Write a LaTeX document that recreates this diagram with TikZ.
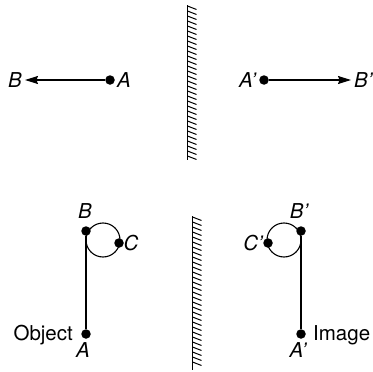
\documentclass[tikz,border=0pt]{standalone}
\usepackage{fontspec}
\setmainfont{TeX Gyre Heros}
\usetikzlibrary{arrows.meta}
\begin{document}
\begin{tikzpicture}[
    x=1pt, y=-1pt,
    font=\fontsize{20.5}{24}\selectfont,
    dot/.style={circle, fill, inner sep=0pt, minimum size=9.5pt},
    arrow/.style={-{Stealth[length=13pt, width=8pt, inset=1.5pt]}, line width=1.1pt},
    rod/.style={line width=1.1pt},
    mirror/.style={line width=1.8pt},
    hatch/.style={line width=1pt},
    pt/.style={font=\fontsize{20.5}{24}\selectfont\itshape, inner sep=3pt}
]
\useasboundingbox (0,0) rectangle (373,372);

% Upper pair: object arrow and its image
\node[dot] (A)  at (110,80) {};
\node[dot] (Ap) at (264,80) {};
\node[pt, anchor=east] (B)  at (25,80)  {B};
\node[pt, anchor=west] (Bp) at (351,80) {B’};
\node[pt, anchor=west, inner sep=2pt] at (A.east)  {A};
\node[pt, anchor=east] at (Ap.west) {A’};

\draw[arrow] (A) -- (B);
\draw[arrow] (Ap) -- (Bp);

% Upper mirror
\draw[mirror] (187.5,5) -- (187.5,160);
\foreach \y in {6,11,...,156}
    \draw[hatch] (187.5,\y) -- ++(9,3.5);

% Lower pair: object with loop
\node[dot] (oB) at (86,231) {};
\node[dot] (oA) at (86,334) {};
\node[dot] (oC) at (119,243) {};
\draw[rod] (103,240) circle (17);
\draw[rod] (oB) -- (oA);
\node[pt] at (85,211.5)  {B};
\node[pt] at (131,243)   {C};
\node[pt] at (83,350.5)  {A};
\node[anchor=base east, inner sep=0pt] at (73,340.5) {Object};

% Lower pair: image
\node[dot] (iB) at (301,231) {};
\node[dot] (iA) at (301,334) {};
\node[dot] (iC) at (268,243) {};
\draw[rod] (284,240) circle (17);
\draw[rod] (iB) -- (iA);
\node[pt] at (299,211.5) {B’};
\node[pt] at (253,243)   {C’};
\node[pt] at (298,350.5) {A’};
\node[anchor=base west, inner sep=0pt] at (313,340.5) {Image};

% Lower mirror
\draw[mirror] (192.5,216) -- (192.5,370);
\foreach \y in {217,222,...,362}
    \draw[hatch] (192.5,\y) -- ++(9,3.5);

\end{tikzpicture}
\end{document}
